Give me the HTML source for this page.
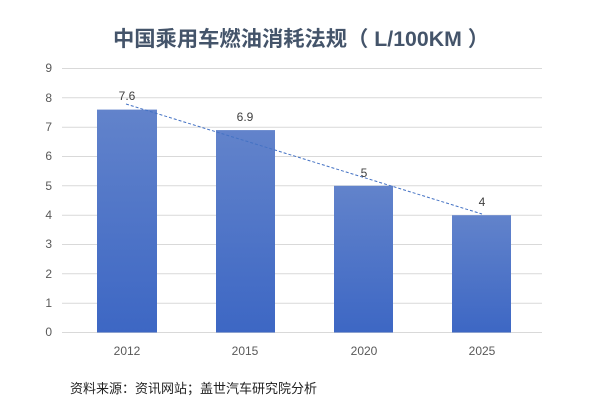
<!DOCTYPE html>
<html><head><meta charset="utf-8"><style>
body{margin:0;background:#fff;}
</style></head><body>
<svg width="606" height="415" xmlns="http://www.w3.org/2000/svg" style="display:block">
<defs><linearGradient id="g" x1="0" y1="0" x2="0" y2="1"><stop offset="0" stop-color="#6283cb"/><stop offset="1" stop-color="#3d67c4"/></linearGradient></defs>
<rect width="606" height="415" fill="#fff"/>
<text x="301" y="46" text-anchor="middle" font-family="Liberation Sans, Noto Sans CJK SC, sans-serif" font-size="21" font-weight="bold" fill="#44546a" textLength="376" lengthAdjust="spacingAndGlyphs">中国乘用车燃油消耗法规（ L/100KM ）</text>
<g stroke="#d9d9d9" stroke-width="1">
<line x1="62" x2="542" y1="68.5" y2="68.5"/><line x1="62" x2="542" y1="97.8" y2="97.8"/><line x1="62" x2="542" y1="127.2" y2="127.2"/><line x1="62" x2="542" y1="156.5" y2="156.5"/><line x1="62" x2="542" y1="185.8" y2="185.8"/><line x1="62" x2="542" y1="215.2" y2="215.2"/><line x1="62" x2="542" y1="244.5" y2="244.5"/><line x1="62" x2="542" y1="273.8" y2="273.8"/><line x1="62" x2="542" y1="303.2" y2="303.2"/><line x1="62" x2="542" y1="332.5" y2="332.5"/>
</g>
<g font-family="Liberation Sans, sans-serif" font-size="12" fill="#595959" text-anchor="end">
<text x="52" y="72">9</text><text x="52" y="102">8</text><text x="52" y="131">7</text><text x="52" y="160">6</text><text x="52" y="190">5</text><text x="52" y="219">4</text><text x="52" y="248">3</text><text x="52" y="278">2</text><text x="52" y="307">1</text><text x="52" y="336">0</text>
</g>
<g fill="url(#g)">
<rect x="97" y="109.6" width="60" height="222.9"/>
<rect x="216" y="130.1" width="59" height="202.4"/>
<rect x="334" y="185.8" width="59" height="146.7"/>
<rect x="452" y="215.2" width="59" height="117.3"/>
</g>
<line x1="126" y1="104" x2="482" y2="214" stroke="#4472c4" stroke-width="1" stroke-dasharray="3,2"/>
<g font-family="Liberation Sans, sans-serif" font-size="12" fill="#404040" text-anchor="middle">
<text x="127" y="100">7.6</text><text x="245" y="121">6.9</text><text x="364" y="177">5</text><text x="482" y="206">4</text>
</g>
<g font-family="Liberation Sans, sans-serif" font-size="12" fill="#595959" text-anchor="middle">
<text x="127" y="355">2012</text><text x="245" y="355">2015</text><text x="364" y="355">2020</text><text x="482" y="355">2025</text>
</g>
<text x="70" y="393" font-family="Liberation Sans, Noto Sans CJK SC, sans-serif" font-size="13" fill="#222">资料来源：资讯网站；盖世汽车研究院分析</text>
</svg>
</body></html>
